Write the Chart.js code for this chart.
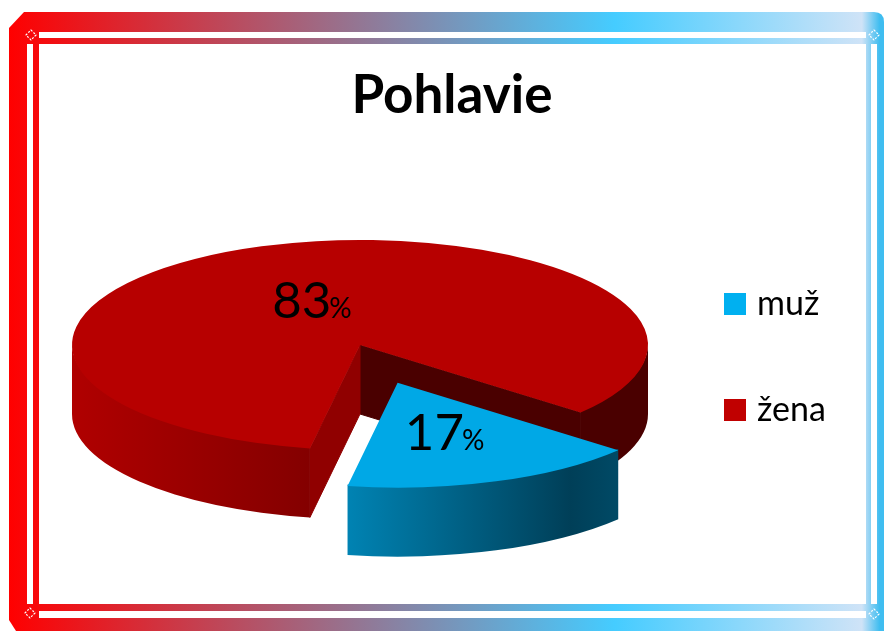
<!DOCTYPE html>
<html lang="sk">
<head>
<meta charset="utf-8">
<title>Pohlavie</title>
<script src="https://cdn.jsdelivr.net/npm/chart.js@4/dist/chart.umd.min.js"></script>
<style>html,body{margin:0;padding:0;background:#fff}canvas{display:block}</style>
</head>
<body>
<canvas id="c" width="884" height="631"></canvas>
<script>
const chartTitle = 'Pohlavie';
const categories = ['muž', 'žena'];
const shareValues = [16.67, 83.33];
const topColors = ['#00a8e6', '#b70000'];
const legendColors = ['#00b0f0', '#c00000'];
const wallStops = [
  [[0, '#0083b3'], [0.413, '#0083b3'], [0.8, '#003f58'], [0.884, '#004a66'], [1, '#004a66']],
  [[0, '#b00000'], [0.41, '#840000'], [0.86, '#4a0000'], [1, '#4a0000']]
];

const FONT = 'Lato, "Open Sans", sans-serif';
const CX = 360, CY = 345, RADIUS = 288, SQUASH = 0.3646, DEPTH = 69, EXPLODE = 110, ROTATION = 130;
const LABEL_OFFSETS = [[0.025, 0.64], [-0.305, -0.26]]; // fraction of radius from the slice centre, fraction of squashed radius

function project(base, x, y) {
  return [CX + (x - base.x), CY + (y - base.y) * SQUASH];
}

const pie3d = {
  id: 'pie3d',
  beforeDraw(chart) {
    const ctx = chart.ctx;
    const g = ctx.createLinearGradient(0, 0, 884, 0);
    g.addColorStop(0, '#ff0000');
    g.addColorStop(0.01, '#ff0000');
    g.addColorStop(0.695, '#45ccff');
    g.addColorStop(0.975, '#cfe3f7');
    g.addColorStop(0.995, '#3fbdf0');
    g.addColorStop(1, '#3fbdf0');
    ctx.save();
    ctx.fillStyle = g;
    ctx.beginPath();
    ctx.moveTo(24, 12); ctx.lineTo(874, 12); ctx.quadraticCurveTo(884, 12, 884, 22);
    ctx.lineTo(884, 631); ctx.lineTo(16, 631); ctx.lineTo(9, 620); ctx.lineTo(9, 28);
    ctx.closePath();
    ctx.fill();
    ctx.fillStyle = '#fff';
    ctx.fillRect(39, 32, 827, 6);
    ctx.fillRect(39, 611, 827, 7);
    ctx.fillRect(27, 44, 6, 560);
    ctx.fillRect(871, 44, 6, 560);
    ctx.fillRect(39, 44, 827, 560);
    ctx.strokeStyle = '#fff';
    ctx.lineWidth = 1.2;
    ctx.setLineDash([2, 1.5]);
    [[31, 35], [874, 35], [30, 613], [874, 614]].forEach(([x, y]) => {
      ctx.beginPath();
      ctx.moveTo(x, y - 5); ctx.lineTo(x + 5, y); ctx.lineTo(x, y + 5); ctx.lineTo(x - 5, y);
      ctx.closePath();
      ctx.stroke();
    });
    ctx.restore();
  },
  afterDatasetUpdate(chart) {
    const arcs = chart.getDatasetMeta(0).data;
    const a = arcs[0];
    const mid = (a.startAngle + a.endAngle) / 2;
    a.x += Math.cos(mid) * EXPLODE;
    a.y += Math.sin(mid) * EXPLODE;
  },
  afterLayout(chart) {
    const l = chart.legend;
    const pad = l.options.labels.padding;
    const w = l.width, h = l.height;
    l.left = 730 - pad; l.right = l.left + w;
    l.top = 287 - pad; l.bottom = l.top + h;
    l.adjustHitBoxes();
  },
  beforeDatasetsDraw(chart) {
    const ctx = chart.ctx;
    const arcs = chart.getDatasetMeta(0).data;
    const base = arcs[1];
    // walls of the main slice, then the exploded slice on top of them
    [1, 0].forEach(i => {
      const arc = arcs[i];
      const [ex, ey] = project(base, arc.x, arc.y);
      const R = arc.outerRadius, r = R * SQUASH;
      const grad = ctx.createLinearGradient(ex - R, 0, ex + R, 0);
      wallStops[i].forEach(s => grad.addColorStop(s[0], s[1]));
      if (i === 1) {
        const P = t => [ex + R * Math.cos(t), ey + r * Math.sin(t)];
        const [p1, p2] = [P(arc.endAngle), P(arc.startAngle)];
        [[p1, '#4a0000'], [p2, '#900000']].forEach(([p, col]) => {
          ctx.fillStyle = col;
          ctx.strokeStyle = col;
          ctx.lineWidth = 1;
          ctx.beginPath();
          ctx.moveTo(ex, ey); ctx.lineTo(p[0], p[1]);
          ctx.lineTo(p[0], p[1] + DEPTH); ctx.lineTo(ex, ey + DEPTH);
          ctx.closePath();
          ctx.fill();
          ctx.stroke();
        });
      }
      [[0, Math.PI], [2 * Math.PI, 3 * Math.PI]].forEach(([lo, hi]) => {
        const a1 = Math.max(lo, arc.startAngle), a2 = Math.min(hi, arc.endAngle);
        if (a2 <= a1) return;
        ctx.fillStyle = grad;
        ctx.beginPath();
        ctx.ellipse(ex, ey - 1.5, R, r, 0, a1, a2);
        ctx.ellipse(ex, ey + DEPTH, R, r, 0, a2, a1, true);
        ctx.closePath();
        ctx.fill();
      });
    });
    ctx.save();
    ctx.translate(CX - base.x, CY);
    ctx.scale(1, SQUASH);
    ctx.translate(0, -base.y);
  },
  afterDatasetsDraw(chart) {
    const ctx = chart.ctx;
    ctx.restore();
    const arcs = chart.getDatasetMeta(0).data;
    const base = arcs[1];
    ctx.save();
    ctx.fillStyle = '#000';
    ctx.textBaseline = 'alphabetic';
    ctx.textAlign = 'left';
    arcs.forEach((arc, i) => {
      const [ex, ey] = project(base, arc.x, arc.y);
      const x = ex + LABEL_OFFSETS[i][0] * RADIUS;
      const y = ey + LABEL_OFFSETS[i][1] * RADIUS * SQUASH;
      const num = String(Math.round(shareValues[i]));
      ctx.font = '51px ' + FONT;
      ctx.fillText(num, x, y);
      const w = ctx.measureText(num).width;
      ctx.font = '28px ' + FONT;
      ctx.fillText('%', x + w - 2, y);
    });
    ctx.restore();
  }
};

new Chart(document.getElementById('c'), {
  type: 'pie',
  data: {
    labels: categories,
    datasets: [{
      data: shareValues,
      backgroundColor: topColors,
      borderWidth: 0,
      clip: false
    }]
  },
  options: {
    responsive: false,
    animation: false,
    events: [],
    rotation: ROTATION,
    radius: RADIUS,
    layout: { padding: { left: 20 } },
    plugins: {
      tooltip: { enabled: false },
      title: {
        display: true,
        text: chartTitle,
        color: '#000',
        font: { family: FONT, size: 53, weight: 'bold' },
        padding: { top: 64, bottom: 0 }
      },
      legend: {
        position: 'right',
        align: 'start',
        onClick: null,
        labels: {
          color: '#000',
          font: { family: FONT, size: 34 },
          usePointStyle: true,
          boxWidth: 10,
          boxHeight: 22,
          padding: 72,
          generateLabels: () => categories.map((text, i) => ({
            text, fillStyle: legendColors[i], strokeStyle: legendColors[i], lineWidth: 0, index: i, hidden: false, pointStyle: 'rect'
          }))
        }
      }
    }
  },
  plugins: [pie3d]
});
</script>
</body>
</html>
